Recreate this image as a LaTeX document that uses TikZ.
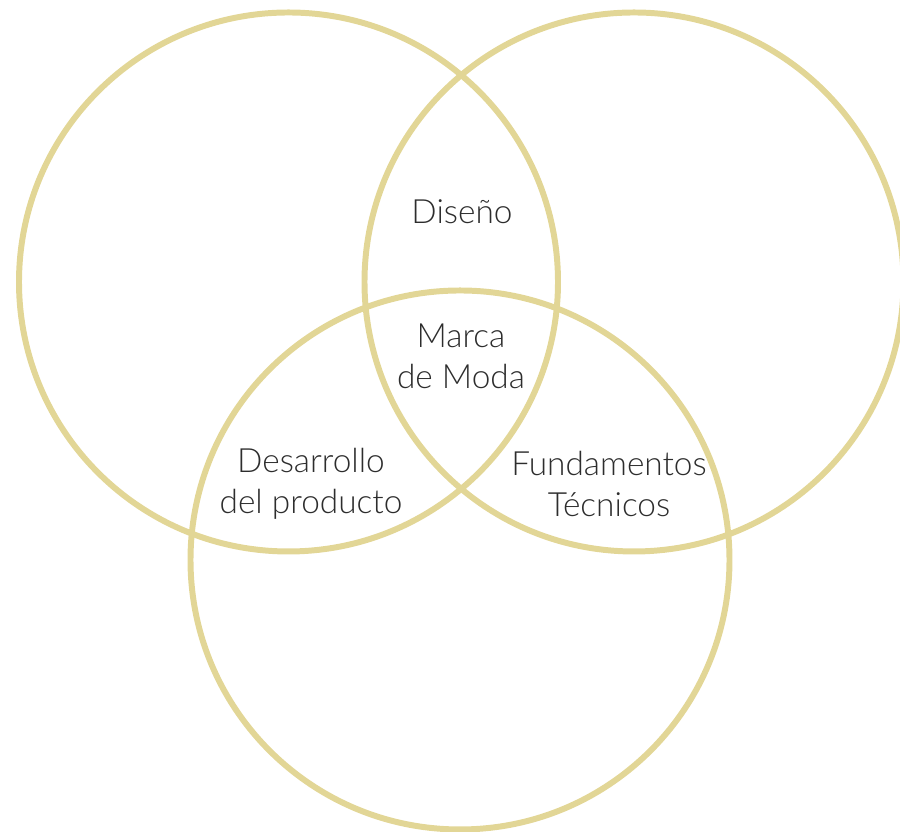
\documentclass[tikz,border=0pt]{standalone}
\usepackage{fontspec}
\setmainfont{Lato}[UprightFont=* Light]
\usepackage{tikz}
\usetikzlibrary{positioning,shapes.geometric}
\definecolor{oro}{RGB}{226,214,150}
\definecolor{tinta}{RGB}{45,45,45}

\begin{document}
\begin{tikzpicture}[%
    ring/.style={draw=oro, circle, line width=3.4pt, minimum size=10.78cm, inner sep=0pt},
    label/.style={align=center, text=tinta, font=\fontsize{19}{23.2}\selectfont}]
    \clip (0,0) rectangle (18,16.64);
    \node[ring] (Diseno) at (5.77,11.0) {};
    \node[ring] (Tecnico) at (12.68,11.0) {};
    \node[ring] (Producto) at (9.2,5.44) {};

    \node[label] (DisenoText) at (9.24,12.4) {Diseño};
    \node[label] (Marca) at (9.22,9.52) {Marca\\de Moda};
    \node[label] (Desarrollo) at (6.22,6.96) {Desarrollo\\del producto};
    \node[label] (Fundamentos) at (12.18,6.96) {Fundamentos\\Técnicos};
\end{tikzpicture}
\end{document}
